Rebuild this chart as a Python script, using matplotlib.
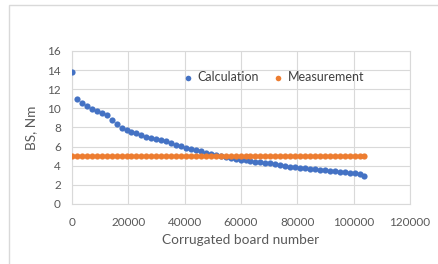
import matplotlib
matplotlib.use("Agg")
import matplotlib.pyplot as plt
from matplotlib.patches import Rectangle

board_number = [0, 1760, 3520, 5280, 7040, 8800, 10560, 12320, 14080, 15840,
                17600, 19360, 21120, 22880, 24640, 26400, 28160, 29920, 31680, 33440,
                35200, 36960, 38720, 40480, 42240, 44000, 45760, 47520, 49280, 51040,
                52800, 54560, 56320, 58080, 59840, 61600, 63360, 65120, 66880, 68640,
                70400, 72160, 73920, 75680, 77440, 79200, 80960, 82720, 84480, 86240,
                88000, 89760, 91520, 93280, 95040, 96800, 98560, 100320, 102080, 103840]
calculation = [13.8, 11.0, 10.6, 10.2, 9.9, 9.72, 9.55, 9.3, 8.75, 8.33,
               7.93, 7.72, 7.55, 7.4, 7.18, 7.0, 6.88, 6.79, 6.7, 6.6,
               6.4, 6.22, 6.03, 5.88, 5.76, 5.62, 5.5, 5.35, 5.25, 5.15,
               5.05, 4.92, 4.78, 4.68, 4.62, 4.56, 4.5, 4.44, 4.38, 4.31,
               4.25, 4.16, 4.06, 3.98, 3.91, 3.84, 3.78, 3.74, 3.67, 3.63,
               3.6, 3.53, 3.49, 3.43, 3.39, 3.35, 3.28, 3.22, 3.14, 2.97]
measurement = [5.05] * 60

x_ticks = [0, 20000, 40000, 60000, 80000, 100000, 120000]
y_ticks = [0, 2, 4, 6, 8, 10, 12, 14, 16]

plt.rcParams['font.family'] = ['Lato', 'DejaVu Sans']
fig = plt.figure(figsize=(4.39, 2.64), dpi=100)
fig.patch.set_facecolor('white')
fig.patches.append(Rectangle((9 / 439, -0.1), 1.2, 1 - 5 / 264 + 0.1, transform=fig.transFigure,
                             fill=False, edgecolor='#d9d9d9', linewidth=1.0))

ax = fig.add_axes([72 / 439, 1 - 204 / 264, (410 - 72) / 439, (204 - 51) / 264])
ax.scatter(board_number, calculation, s=20, color='#4472C4', label='Calculation', zorder=3, linewidths=0)
ax.scatter(board_number, measurement, s=20, color='#ED7D31', label='Measurement', zorder=3, linewidths=0)

ax.set_xlim(0, 120000)
ax.set_ylim(0, 16)
ax.set_xticks(x_ticks)
ax.set_yticks(y_ticks)
ax.set_xticklabels([str(v) for v in x_ticks])
ax.grid(True, color='#d9d9d9', linewidth=0.8)
ax.set_axisbelow(True)
for s in ax.spines.values():
    s.set_color('#d9d9d9')
    s.set_linewidth(0.8)
ax.tick_params(axis='both', length=0, labelsize=8.5, colors='#595959')
ax.tick_params(axis='x', pad=9)
ax.tick_params(axis='y', pad=8)
ax.set_xlabel('Corrugated board number', fontsize=9.8, color='#595959', labelpad=5)
ax.set_ylabel('BS, Nm', fontsize=9.8, color='#595959', labelpad=7)

leg = ax.legend(loc='center', bbox_to_anchor=(0.585, 0.83), ncol=2, frameon=False,
                fontsize=9.0, handletextpad=-0.2, columnspacing=0.5, markerscale=0.9)
for t in leg.get_texts():
    t.set_color('#404040')

fig.savefig('out.png', dpi=100, facecolor='white')
